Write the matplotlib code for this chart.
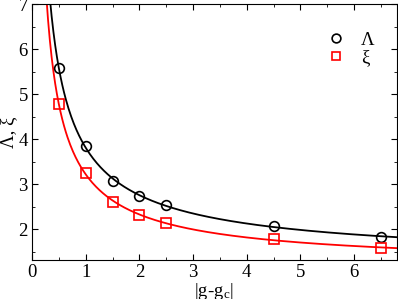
import numpy as np
import matplotlib
matplotlib.use('Agg')
import matplotlib.pyplot as plt

# data
dg = np.array([0.5, 1.0, 1.5, 2.0, 2.5, 4.5, 6.5])
lam = np.array([5.58, 3.86, 3.08, 2.75, 2.54, 2.07, 1.84])
xi = np.array([4.78, 3.26, 2.60, 2.32, 2.15, 1.78, 1.59])


def fit_curve(x, y):
    """ fit y = a + b*x^-c (grid on c, least squares on a, b) """
    best = None
    for c in np.linspace(0.3, 1.5, 241):
        A = np.column_stack([np.ones_like(x), x ** -c])
        coef, res, _, _ = np.linalg.lstsq(A, y, rcond=None)
        err = np.sum((A @ coef - y) ** 2)
        if best is None or err < best[0]:
            best = (err, coef[0], coef[1], c)
    return best[1:]


plt.rcParams['font.family'] = 'Liberation Serif'
plt.rcParams['mathtext.fontset'] = 'stix'

fig = plt.figure(figsize=(3.98, 2.99), dpi=100)
ax = fig.add_axes([0.0804, 0.1304, 0.917, 0.855])

xs = np.linspace(0.2, 6.8, 400)
for y, col in [(lam, 'k'), (xi, 'r')]:
    a, b, c = fit_curve(dg, y)
    ax.plot(xs, a + b * xs ** -c, color=col, lw=1.3)

ax.plot(dg, lam, 'o', mfc='none', mec='k', ms=7, mew=1.2, label='Λ')
ax.plot(dg, xi, 's', mfc='none', mec='r', ms=6.5, mew=1.2, label='ξ')

ax.set_xlim(0, 6.8)
ax.set_ylim(1.32, 7)
ax.set_xticks([0, 1, 2, 3, 4, 5, 6])
ax.set_yticks([2, 3, 4, 5, 6, 7])
ax.set_xticks(np.arange(0.5, 6.8, 1), minor=True)
ax.set_yticks(np.arange(1.5, 7, 1), minor=True)
ax.tick_params(which='both', direction='in', top=True, right=True, labelsize=13.5, pad=3)
ax.tick_params(which='major', length=4)
ax.tick_params(which='minor', length=2)
ax.set_xlabel(r'|g-g$_\mathregular{c}$|', fontsize=13.5, labelpad=0)
ax.set_ylabel('Λ, ξ', fontsize=13.5, labelpad=1)
ax.legend(loc='upper right', frameon=False, fontsize=13.5, handletextpad=0.85,
          handlelength=1.0, bbox_to_anchor=(0.985, 0.96), labelspacing=0.05,
          markerscale=0.9)

fig.savefig('out.png', dpi=100)
